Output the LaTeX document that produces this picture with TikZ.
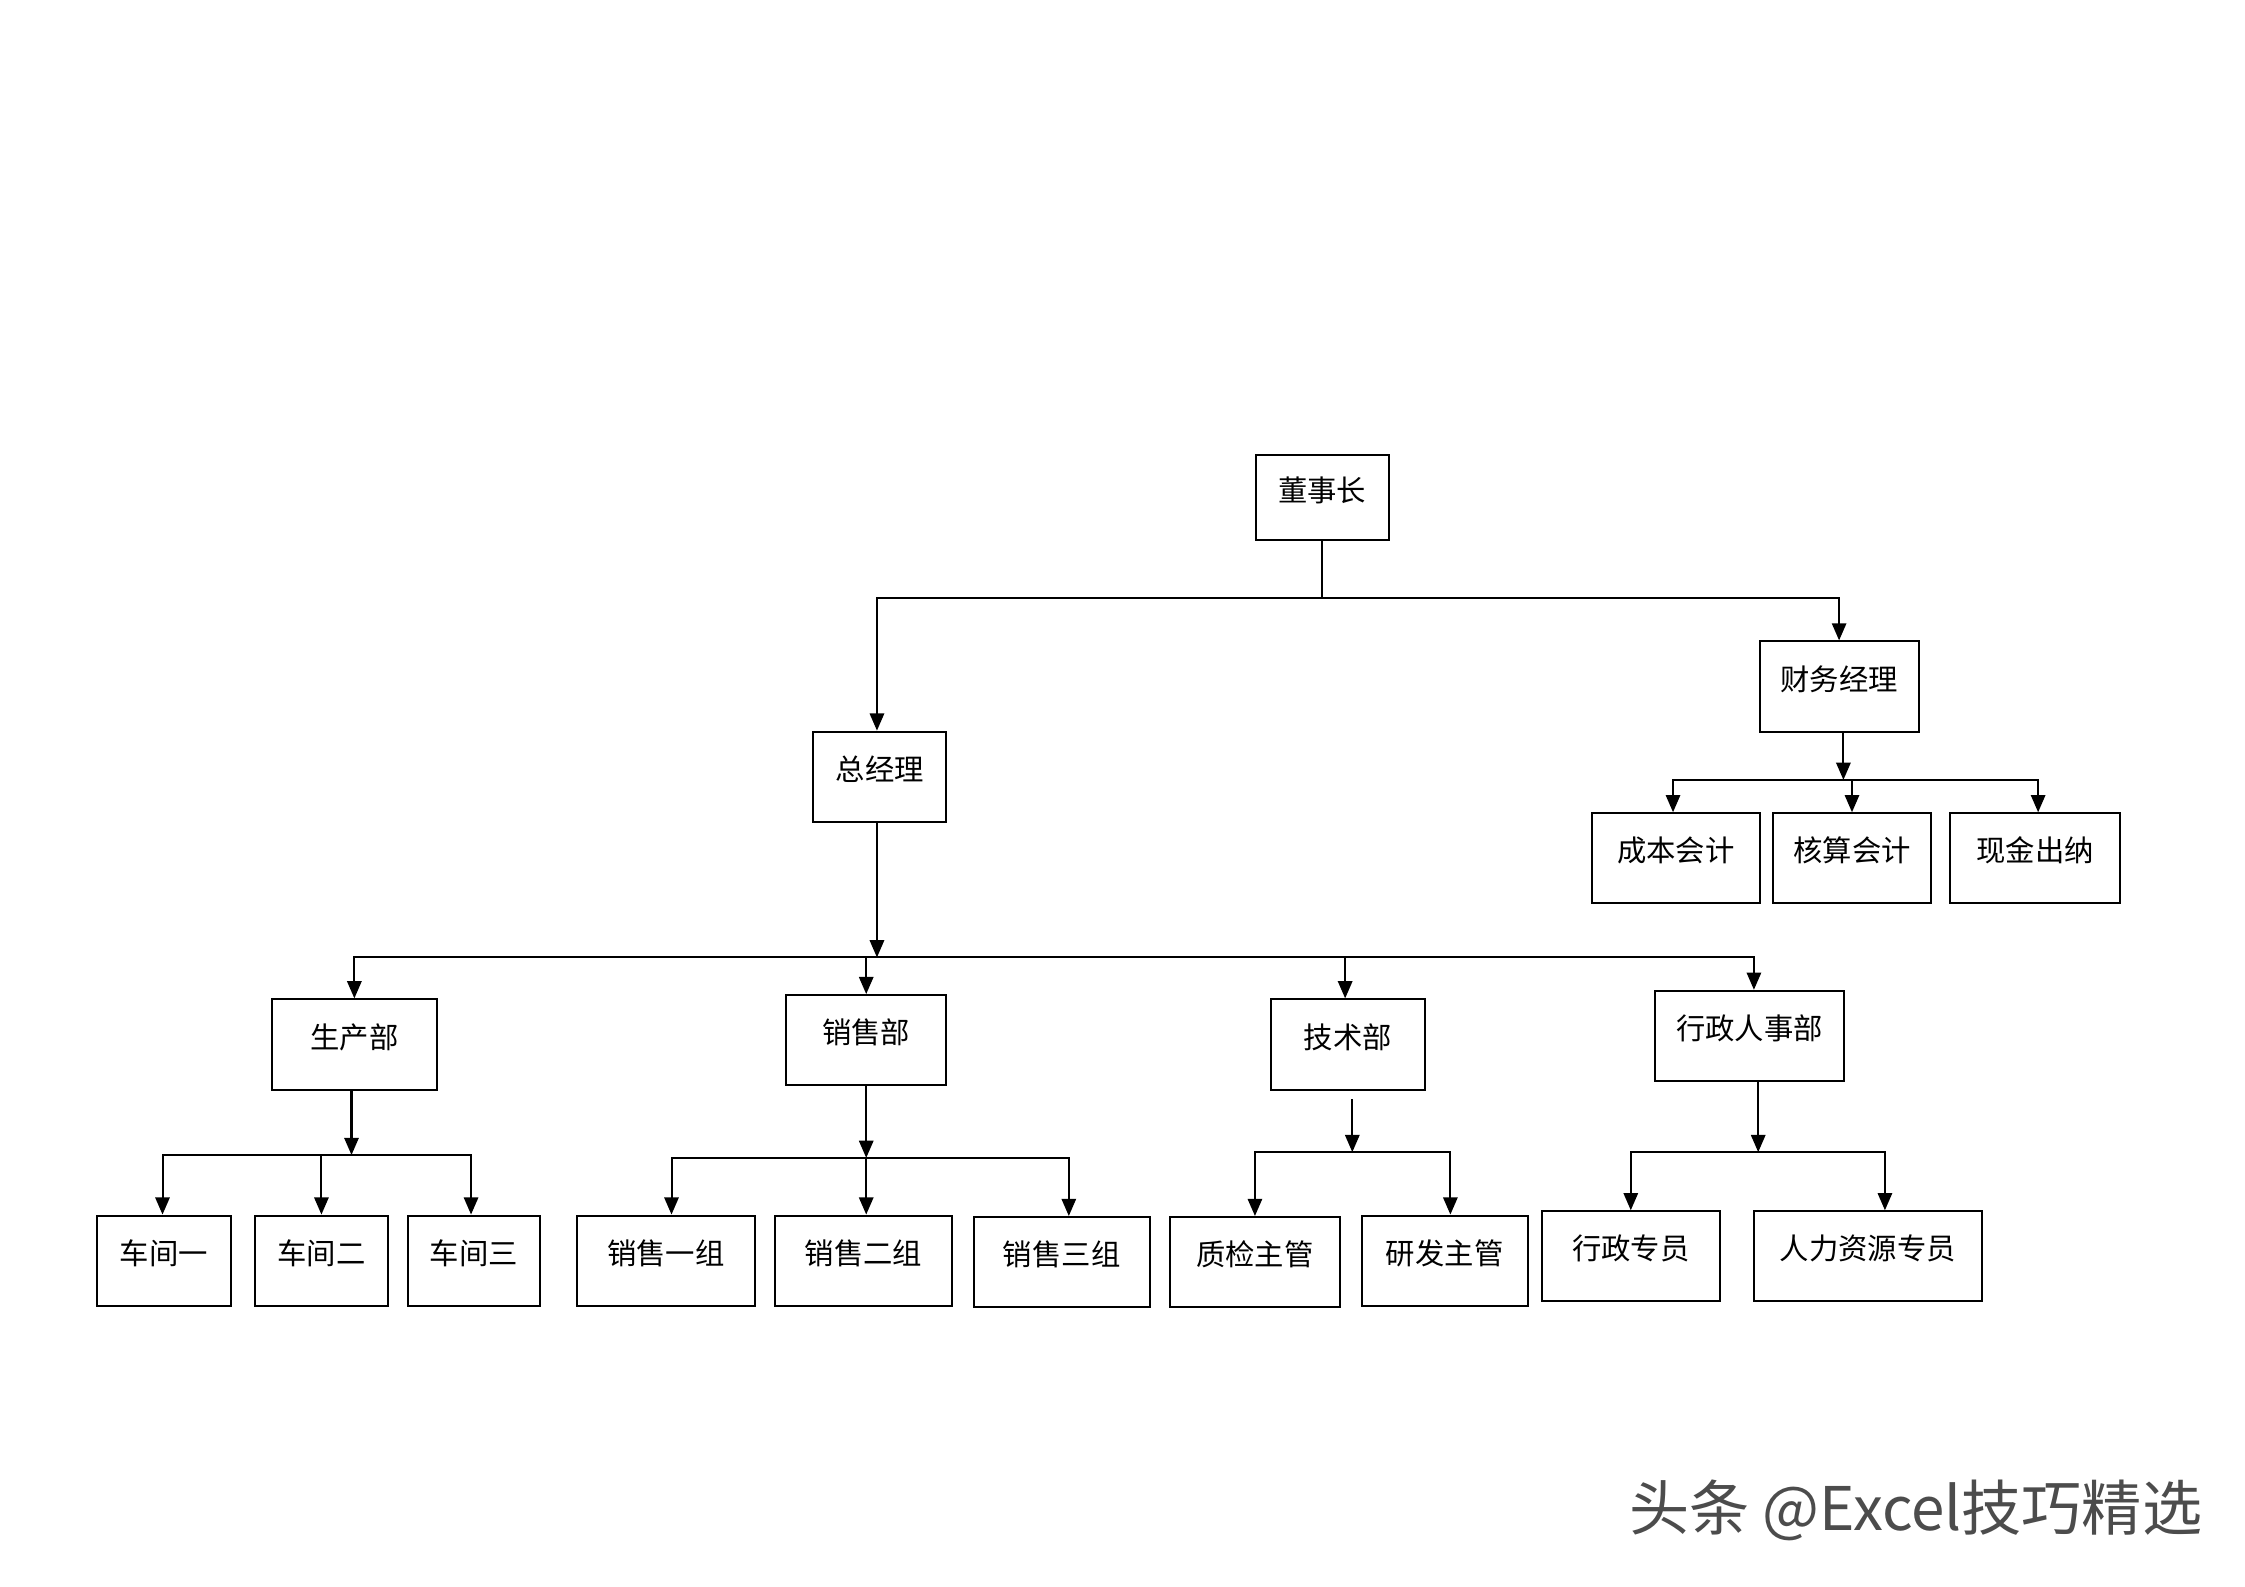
\documentclass[tikz,border=0pt]{standalone}
\usepackage{fontspec}
\setmainfont{Noto Sans CJK SC}
\usetikzlibrary{arrows.meta}

\begin{document}
\begin{tikzpicture}[x=1pt,y=-1pt,
  box/.style={draw,line width=1.4pt,minimum height=63pt,inner sep=0pt,
    text height=15pt,text depth=10pt,font=\fontsize{20.5}{24}\selectfont},
  ln/.style={line width=1.4pt},
  arr/.style={line width=1.4pt,-{Triangle[length=12pt,width=10pt]}}]
\useasboundingbox (0,0) rectangle (1568,1108);
%董事长
\node[box,minimum width=93pt,minimum height=59pt] (dsz) at (923.5,347.5) {董事长};
\node[box,minimum width=93pt] (zjl) at (614.5,542.5) {总经理};
\node[box,minimum width=111pt] (cwjl) at (1284.5,479.5) {财务经理};
\draw[ln] (dsz.south) -- ++(0,40) coordinate (bus0);
\draw[arr] (bus0) -| ([xshift=-2pt]zjl.north);
\draw[arr] (bus0) -| (cwjl.north);
%财务经理
\node[box,minimum width=117pt] (cbkj) at (1170.5,599.5) {成本会计};
\node[box,minimum width=111pt] (hskj) at (1293.5,599.5) {核算会计};
\node[box,minimum width=119pt] (xjcn) at (1421.5,599.5) {现金出纳};
\draw[arr] ([xshift=3pt]cwjl.south) -- ++(0,33) coordinate (bus1);
\draw[arr] (bus1) -| ([xshift=-2pt]cbkj.north);
\draw[arr] (bus1) -| (hskj.north);
\draw[arr] (bus1) -| ([xshift=2pt]xjcn.north);
%总经理
\node[box,minimum width=115pt] (scb) at (247.5,729.5) {生产部};
\node[box,minimum width=112pt] (xsb) at (605,726.5) {销售部};
\node[box,minimum width=107pt] (jsb) at (941.5,729.5) {技术部};
\node[box,minimum width=132pt] (xzrs) at (1222,723.5) {行政人事部};
\draw[arr] ([xshift=-2pt]zjl.south) -- ++(0,94) coordinate (bus2);
\draw[arr] (bus2) -| (scb.north);
\draw[arr] (bus2) -| (xsb.north);
\draw[arr] (bus2) -| ([xshift=-2pt]jsb.north);
\draw[arr] (bus2) -| ([xshift=3pt]xzrs.north);
%生产部
\node[box,minimum width=93pt] (cj1) at (114.5,880.5) {车间一};
\node[box,minimum width=93pt] (cj2) at (224.5,880.5) {车间二};
\node[box,minimum width=92pt] (cj3) at (331,880.5) {车间三};
\draw[arr] ([xshift=-2pt]scb.south) -- ++(0,45) coordinate (bus3);
\draw[arr] (bus3) -| ([xshift=-1pt]cj1.north);
\draw[arr] (bus3) -| (cj2.north);
\draw[arr] (bus3) -| ([xshift=-2pt]cj3.north);
%销售部
\node[box,minimum width=124pt] (xs1) at (465,880.5) {销售一组};
\node[box,minimum width=124pt] (xs2) at (603,880.5) {销售二组};
\node[box,minimum width=123pt] (xs3) at (741.5,881.5) {销售三组};
\draw[arr] (xsb.south) -- ++(0,50) coordinate (bus4);
\draw[arr] (bus4) -| ([xshift=4pt]xs1.north);
\draw[arr] (bus4) -| ([xshift=2pt]xs2.north);
\draw[arr] (bus4) -| ([xshift=5pt]xs3.north);
%技术部
\node[box,minimum width=119pt] (zjzg) at (876.5,881.5) {质检主管};
\node[box,minimum width=116pt] (yfzg) at (1009,880.5) {研发主管};
\draw[arr] ([xshift=3pt,yshift=-6pt]jsb.south) -- ++(0,37) coordinate (bus5);
\draw[arr] (bus5) -| (zjzg.north);
\draw[arr] (bus5) -| ([xshift=4pt]yfzg.north);
%行政人事部
\node[box,minimum width=124pt] (xzzy) at (1139,877.5) {行政专员};
\node[box,minimum width=159pt] (rlzy) at (1304.5,877.5) {人力资源专员};
\draw[arr] ([xshift=6pt]xzrs.south) -- ++(0,49) coordinate (bus6);
\draw[arr] (bus6) -| (xzzy.north);
\draw[arr] (bus6) -| ([xshift=12pt]rlzy.north);
%水印
\node[font=\fontsize{42}{46}\selectfont,text=black!70] (wm) at (1338,1055) {头条 @Excel技巧精选};
\end{tikzpicture}
\end{document}
